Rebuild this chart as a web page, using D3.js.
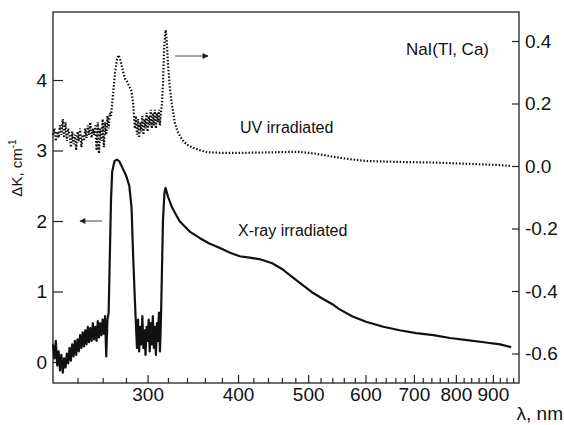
<!DOCTYPE html>
<html><head><meta charset="utf-8">
<script src="https://cdn.jsdelivr.net/npm/d3@7"></script>
<style>body{margin:0;background:#fff}svg{display:block}text{font-family:"Liberation Sans",Arial,sans-serif;fill:#111}</style>
</head><body><svg id="c" width="564" height="425"></svg>
<script>
// X-ray irradiated: [wavelength nm, ΔK cm^-1] (left axis)
const xrayData = [
[222,0.25],[223,0.05],[224,0.3],[225,-0.05],[226,0.15],[227,-0.12],[228,0.1],[229,-0.15],[230,0.05],[231,-0.08],
[232,0.12],[233,-0.02],[234,0.2],[235,0.02],[236,0.25],[237,0.08],[238,0.3],[239,0.1],[240,0.32],[241,0.15],
[242,0.38],[243,0.2],[244,0.42],[245,0.22],[246,0.45],[247,0.25],[248,0.5],[249,0.28],[250,0.48],[251,0.3],
[252,0.55],[253,0.32],[254,0.5],[255,0.3],[256,0.58],[257,0.35],[258,0.55],[259,0.38],[260,0.6],[261,0.4],
[262,0.65],[263,0.08],[264,0.6],[265,0.7],[266,1.5],[267,2.3],[268,2.7],[270,2.85],[272,2.87],[274,2.85],
[277,2.75],[280,2.65],[283,2.5],[285,2.2],[286.5,1.5],[288,0.9],[289,0.55],[290,0.2],[291,0.6],[292,0.15],
[293,0.5],[294,0.25],[295,0.65],[296,0.2],[297,0.45],[298,0.1],[299,0.5],[300,0.3],[301,0.6],[302,0.15],
[303,0.55],[304,0.25],[305,0.65],[306,0.2],[307,0.5],[308,0.1],[309,0.55],[310,0.3],[311,0.7],[312,0.15],
[313,0.6],[314,1.3],[315,2.0],[316.5,2.4],[317.6,2.47],[320,2.35],[324,2.2],[332,2.0],[343,1.85],[354,1.76],
[365,1.68],[377,1.62],[390,1.55],[402,1.5],[415,1.48],[428,1.46],[446,1.4],[460,1.32],[476,1.2],[490,1.1],
[506,0.99],[523,0.9],[540,0.82],[552,0.75],[575,0.65],[601,0.57],[635,0.5],[669,0.45],[705,0.41],[745,0.38],
[785,0.34],[829,0.31],[875,0.28],[921,0.25],[954,0.21]
];
// UV irradiated: [wavelength nm, ΔK cm^-1] (right axis)
const uvData = [
[222,0.1],[223,0.12],[224,0.08],[225,0.11],[226,0.09],[227,0.13],[228,0.1],[229,0.15],[230,0.09],[231,0.14],
[232,0.08],[233,0.12],[234,0.1],[235,0.06],[236,0.11],[237,0.07],[238,0.1],[239,0.05],[240,0.11],[241,0.08],
[242,0.12],[243,0.06],[244,0.1],[245,0.08],[246,0.12],[247,0.09],[248,0.13],[249,0.1],[250,0.14],[251,0.09],
[252,0.12],[253,0.1],[254,0.13],[255,0.05],[256,0.14],[257,0.04],[258,0.12],[259,0.08],[260,0.15],[261,0.06],
[262,0.14],[263,0.1],[264,0.16],[265,0.12],[266,0.17],[267,0.16],[268,0.2],[269,0.24],[270.5,0.3],[272,0.34],
[273.5,0.355],[275,0.34],[277,0.31],[279,0.28],[281,0.27],[283,0.255],[285,0.24],[286.5,0.2],[288,0.12],[289,0.16],
[290,0.1],[291,0.15],[292,0.09],[293,0.14],[294,0.11],[295,0.16],[296,0.1],[297,0.15],[298,0.12],[299,0.17],
[300,0.11],[301,0.16],[302,0.13],[303,0.18],[304,0.12],[305,0.17],[306,0.13],[307,0.18],[308,0.12],[309,0.17],
[310,0.14],[311,0.18],[312,0.13],[313,0.17],[314,0.2],[315,0.26],[316,0.36],[317,0.42],[317.8,0.435],[318.8,0.4],
[320,0.33],[322,0.25],[324,0.2],[327,0.14],[330,0.11],[335,0.083],[340,0.068],[347,0.058],[355,0.05],[363,0.044],
[380,0.042],[402,0.042],[430,0.043],[471,0.045],[487,0.045],[510,0.04],[540,0.03],[570,0.022],[601,0.016],[670,0.013],
[745,0.011],[830,0.007],[921,0.003],[954,0.0]
];
const xMajorTicks = [300,400,500,600,700,800,900];
const xMinorTicks = d3.range(240, 961, 20).filter(v => v % 100 !== 0);
const leftTicks = [0,1,2,3,4];
const rightTicks = [-0.6,-0.4,-0.2,0.0,0.2,0.4];

const svg = d3.select("#c");
const L = 53, R = 519, T = 12, B = 383;
const x = d3.scaleLog().domain([222, 978]).range([L, R]);
const yL = d3.scaleLinear().domain([-0.298, 4.965]).range([B, T]);
const yR = d3.scaleLinear().domain([-0.6944, 0.4928]).range([B, T]);

// frame
svg.append("rect").attr("x", L).attr("y", T).attr("width", R - L).attr("height", B - T)
  .attr("fill", "none").attr("stroke", "#222").attr("stroke-width", 1.3);

const fs = 19;
// bottom axis
const gB = svg.append("g").attr("transform", `translate(0,${B})`);
gB.call(d3.axisTop(x).tickValues(xMajorTicks).tickSize(8).tickFormat(d3.format("d")));
gB.selectAll("text").attr("y", 5).attr("dy", "0.71em").style("font-size", fs + "px");
const gBm = svg.append("g").attr("transform", `translate(0,${B})`);
gBm.call(d3.axisTop(x).tickValues(xMinorTicks).tickSize(5).tickFormat(""));
// left axis
const gL = svg.append("g").attr("transform", `translate(${L},0)`);
gL.call(d3.axisRight(yL).tickValues(leftTicks).tickSize(10).tickFormat(d3.format("d")));
gL.selectAll("text").attr("x", -6).attr("text-anchor", "end").style("font-size", fs + "px");
// right axis
const fmtR = v => d3.format(".1f")(v).replace("\u2212", "-");
const gR = svg.append("g").attr("transform", `translate(${R},0)`);
gR.call(d3.axisLeft(yR).tickValues(rightTicks).tickSize(7).tickFormat(fmtR));
gR.selectAll("text").attr("x", 6).attr("text-anchor", "start").style("font-size", fs + "px");

svg.selectAll(".domain").remove();
svg.selectAll(".tick line").attr("stroke", "#222").attr("stroke-width", 1.2);
svg.selectAll(".tick text").attr("fill", "#111").style("font-family", '"Liberation Sans",Arial,sans-serif');

// lines
const lineX = d3.line().x(d => x(d[0])).y(d => yL(d[1]));
const lineU = d3.line().x(d => x(d[0])).y(d => yR(d[1]));
svg.append("path").datum(xrayData).attr("d", lineX).attr("fill", "none")
  .attr("stroke", "#111").attr("stroke-width", 2.2).attr("stroke-linejoin", "round");
svg.append("path").datum(uvData).attr("d", lineU).attr("fill", "none")
  .attr("stroke", "#111").attr("stroke-width", 2.2).attr("stroke-dasharray", "1.5,1.8");

// arrows
const defs = svg.append("defs");
defs.append("marker").attr("id", "ah").attr("viewBox", "0 0 10 10").attr("refX", 9).attr("refY", 5)
  .attr("markerWidth", 8).attr("markerHeight", 6).attr("markerUnits", "userSpaceOnUse").attr("orient", "auto")
  .append("path").attr("d", "M0,0L10,5L0,10Z").attr("fill", "#222");
svg.append("line").attr("x1", 102).attr("y1", yL(2.0)).attr("x2", 80).attr("y2", yL(2.0))
  .attr("stroke", "#444").attr("stroke-width", 1).attr("marker-end", "url(#ah)");
svg.append("line").attr("x1", 175).attr("y1", 56).attr("x2", 208).attr("y2", 56)
  .attr("stroke", "#444").attr("stroke-width", 1).attr("marker-end", "url(#ah)");

// labels
svg.append("text").attr("x", 240).attr("y", 133).style("font-size", "16px").attr("fill", "#222").text("UV irradiated");
svg.append("text").attr("x", 238).attr("y", 236).style("font-size", "16px").attr("fill", "#222").text("X-ray irradiated");
svg.append("text").attr("x", 489).attr("y", 55).attr("text-anchor", "end").style("font-size", "17px").attr("fill", "#111").text("NaI(Tl, Ca)");
const yl = svg.append("text").attr("transform", "translate(22,168) rotate(-90)").attr("text-anchor", "middle")
  .style("font-size", "15px").attr("fill", "#222");
yl.append("tspan").text("ΔK, cm");
yl.append("tspan").attr("dy", -6).style("font-size", "10px").text("-1");
svg.append("text").attr("x", 563).attr("y", 420).attr("text-anchor", "end").style("font-size", "19px").attr("fill", "#111").text("λ, nm");
</script></body></html>
